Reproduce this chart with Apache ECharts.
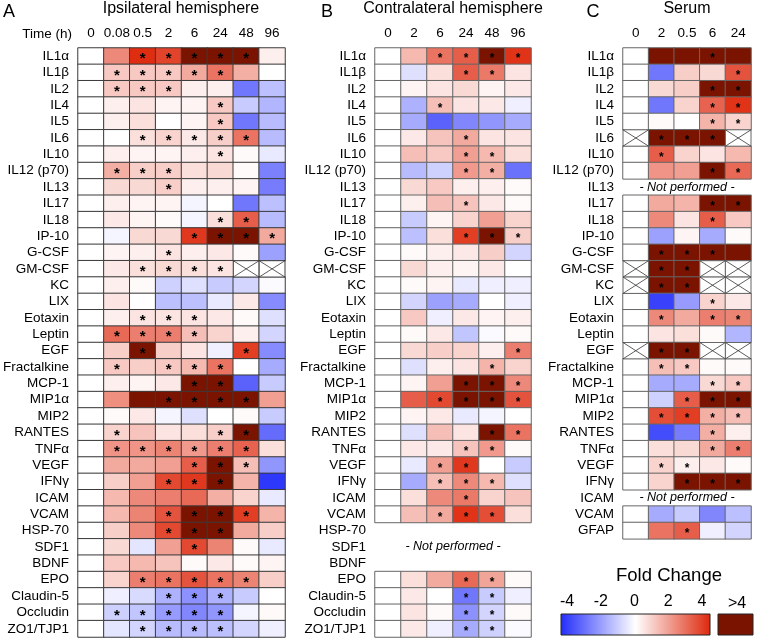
<!DOCTYPE html>
<html><head><meta charset="utf-8">
<script src="https://cdn.jsdelivr.net/npm/echarts@6/dist/echarts.min.js"></script>
<style>html,body{margin:0;padding:0;background:#fff}#c{width:757px;height:640px}</style>
</head><body><div id="c"></div>
<script>
const aRows = ['IL1α','IL1β','IL2','IL4','IL5','IL6','IL10','IL12 (p70)','IL13','IL17','IL18','IP-10','G-CSF','GM-CSF','KC','LIX','Eotaxin','Leptin','EGF','Fractalkine','MCP-1','MIP1α','MIP2','RANTES','TNFα','VEGF','IFNγ','ICAM','VCAM','HSP-70','SDF1','BDNF','EPO','Claudin-5','Occludin','ZO1/TJP1'];
const aCols = ['0','0.08','0.5','2','6','24','48','96'];
const aVals = [
[0,2.2,3.9,3.5,5,5,5,0.3],
[0,1.0,1.0,1.0,1.6,2.6,1.5,0],
[0,1.0,1.0,1.0,0.3,0.3,-2.6,-1.2],
[0,0.3,0.5,0.2,0.2,1.0,-1.0,-1.4],
[0,0.3,0.6,0,0.2,1.0,-2.6,-1.3],
[0,0,0.6,0.8,0.4,0.9,2.6,-1.3],
[0,0.3,0.2,0.2,0.3,0.5,0.1,-0.4],
[0,1.5,0.9,0.9,0.6,0.7,0.1,-2.4],
[0,0.7,0.7,0.9,0.3,0.3,0.2,-2.5],
[0,0.3,0.2,0.2,-0.2,0,-2.6,-1.2],
[0,0.4,0.2,0.1,-0.2,0.6,3.0,-1.3],
[0,-0.2,0.7,0.7,3.7,5,5,1.6],
[0,0.2,0.3,0.5,0.3,0.4,0.1,-1.8],
[0,0.4,0.6,0.7,0.6,0.5,'X','X'],
[0,0.3,0.1,-0.9,-0.6,-1.0,-0.8,-0.1],
[0,0.5,0,-1.2,-1.2,-0.4,0.4,-2.2],
[0,0.3,0.5,0.5,0.5,0.4,0.1,-0.6],
[0,2.8,2.4,2.4,1.2,0.8,0.3,-0.8],
[0,0.9,5,0.9,0.5,-0.3,3.6,-2.2],
[0,1.0,0.9,1.0,1.3,2.6,0,-1.6],
[0,0.3,0.2,0.4,5,5,-3.0,-1.0],
[0,2.1,5,5,5,5,5,1.8],
[0,0.1,0.4,-0.2,-0.6,0,0.1,-1.0],
[0,0.8,1.1,0.5,0.6,0.9,5,-2.8],
[0,2.0,2.0,2.3,1.9,2.4,2.9,0.6],
[0,1.6,1.6,1.8,3.0,5,1.2,-2.0],
[0,0.9,1.8,3.4,3.7,5,1.4,-3.8],
[0,1.3,2.2,2.4,2.8,1.5,0.8,-0.4],
[0,1.3,2.3,3.2,5,5,3.6,1.4],
[0,0.9,2.2,3.4,5,5,1.6,0.9],
[0,0.7,-0.5,1.8,3.4,2.3,0.1,-0.4],
[0,1.0,1.3,1.1,0.1,0.4,0.1,0.2],
[0,0.8,2.4,2.6,3.2,2.6,2.3,0.9],
[0,-0.3,-0.7,-1.5,-2.1,-1.5,-1.0,0],
[0,-0.9,-1.1,-1.9,-2.3,-2.0,-0.2,0.1],
[0,-0.5,-0.8,-1.3,-1.3,-1.2,-0.8,-0.3]
];
const aSig = ['00111110','01111100','01110000','00000100','00000100','00111110','00000100','01110000','00010000','00000000','00000110','00001111','00010000','00111100','00000000','00000000','00111000','01111000','00100010','01011100','00001100','00011110','00000000','01000110','01111110','00001110','00011100','00000000','00011110','00011100','00001000','00000000','00111110','00011100','01111100','00111100'];

const bRows = aRows;
const bCols = ['0','2','6','24','48','96'];
const bVals = [
[0,1.3,2.6,3.0,5,3.8],
[0,-0.6,0.6,3.0,2.5,0.5],
[0,0.2,0.5,0.7,0.2,0.4],
[0,-1.5,1.2,0.5,0.4,-0.3],
[0,-1.6,-3.0,-2.3,-2.0,-1.6],
[0,0.4,1.1,1.6,0.5,0.5],
[0,1.2,1.0,1.8,1.3,0.6],
[0,-1.3,-0.9,1.9,1.5,-2.7],
[0,0.7,1.0,0.3,0.3,0.1],
[0,0.3,1.2,1.1,0.4,0.1],
[0,-1.0,0.2,0.8,1.8,0.8],
[0,-1.2,0.6,3.6,5,0.9],
[0,0.1,0.3,0.4,0.9,-0.8],
[0,0.7,0.3,0.2,0.4,0],
[0,0.1,0.2,-0.4,-0.3,-0.3],
[0,-0.8,-1.8,-1.6,0,-0.3],
[0,1.0,-0.3,0.4,0.2,0.3],
[0,0.1,0.4,-1.1,-0.1,0.1],
[0,0.7,0.9,0.8,0.3,2.4],
[0,-0.6,0.3,0.5,1.4,0.8],
[0,0.2,1.8,5,5,2.2],
[0,3.0,3.4,5,5,3.2],
[0,0.2,0.4,-0.4,-0.2,0],
[0,-0.6,1.2,0.5,5,2.6],
[0,0.4,0.4,1.1,1.9,0.1],
[0,-0.4,1.8,3.7,0,-1.0],
[0,-1.6,1.2,2.2,1.3,-0.6],
[0,0.6,2.2,2.5,0.8,1.1],
[0,1.2,1.6,3.8,3.3,0.6],
null,null,null,
[0,0.6,1.6,2.8,1.7,0.1],
[0,0.4,0,-2.6,-1.0,-0.3],
[0,0.5,0.1,-2.1,-0.8,0.1],
[0,0.4,-0.3,-1.6,-0.9,-0.1]
];
const bSig = ['001111','000110','000000','001000','000000','000100','000110','000110','000000','000100','000000','000111','000000','000000','000000','000000','000000','000000','000001','000010','000111','001111','000000','000011','000110','001100','001110','000100','001110','','','','000110','000110','000110','000110'];

const cRows = ['IL1α','IL1β','IL2','IL4','IL5','IL6','IL10','IL12 (p70)','IL13','IL17','IL18','IP-10','G-CSF','GM-CSF','KC','LIX','Eotaxin','Leptin','EGF','Fractalkine','MCP-1','MIP1α','MIP2','RANTES','TNFα','VEGF','IFNγ','ICAM','VCAM','GFAP'];
const cCols = ['0','2','0.5','6','24'];
const cVals = [
[0,5,5,5,5],
[0,-2.6,0.9,0.7,3.2],
[0,0.7,0.9,5,5],
[0,-2.6,0.8,2.9,3.8],
[0,0.1,0,1.4,0.8],
['X',5,5,5,'X'],
[0,3.0,0.8,0.5,1.3],
[0,2.0,1.8,5,2.8],
null,
[0,1.6,1.4,5,5],
[0,2.2,0.5,3.0,1.0],
[0,-1.8,0.2,-1.6,0.1],
[0,5,5,5,5],
['X',5,5,'X','X'],
['X',5,5,'X','X'],
[0,-3.6,-1.9,0.8,0.4],
[0,2.2,1.6,2.4,2.3],
[0,0.5,0.6,0.1,-1.4],
['X',5,5,'X','X'],
[0,1.2,1.0,0.1,0.1],
[0,-1.6,-1.6,0.7,1.0],
[0,-0.9,3.0,5,5],
[0,3.3,3.6,1.5,1.2],
[0,-3.4,-2.5,1.5,0.3],
[0,0.6,0.7,1.6,2.4],
[0,0.8,0.3,0.4,0.1],
[0,0.8,5,5,5],
null,
[0,-1.6,-1.0,-2.3,-1.2],
[0,2.6,3.0,-0.3,-0.8]
];
const cSig = ['00010','00001','00011','00011','00011','01110','01000','00011','','00011','00010','00000','01110','01100','01100','00010','01011','00000','01100','01100','00011','00111','01111','00010','00011','01100','00111','','00000','00100'];

const scaleTicks = [-4,-2,0,2,4];
const overLabel = '>4';

// ---- colour scale ----
const BLUE=[35,45,250], WHITE=[255,255,255], RED=[222,40,12], DARK=[122,20,0];
function mix(a,b,t){return 'rgb('+a.map((v,i)=>Math.round(v+(b[i]-v)*t)).join(',')+')';}
const stops=[];
for(let v=-4;v<=4;v++){stops.push(v<0?mix(BLUE,WHITE,(v+4)/4):mix(WHITE,RED,v/4));}
stops.push(mix(DARK,DARK,0));

function build(vals,sig){
  const heat=[],xs=[];
  vals.forEach((row,r)=>{ if(!row) return; row.forEach((v,c)=>{
    if(v==='X') xs.push([c,r]); else heat.push([c,r,v,sig[r][c]==='1'?1:0]);
  });});
  return {heat,xs};
}
const A=build(aVals,aSig),B=build(bVals,bSig),C=build(cVals,cSig);

const FONT='"Liberation Sans", Arial, sans-serif';
const rowH=589/36, top0=48;
const grids=[
 {left:77,top:top0,width:208,height:rowH*36},
 {left:375,top:top0,width:156,height:rowH*36},
 {left:623,top:top0,width:128,height:rowH*30},
 {left:567,top:614,width:135,height:21}
];
function xAx(i,data){return {gridIndex:i,type:'category',data:data,position:'top',axisLine:{show:false},axisTick:{show:false},splitLine:{show:false},axisLabel:{interval:0,fontFamily:FONT,fontSize:13.5,color:'#000',margin:8}};}
function yAx(i,data){return {gridIndex:i,type:'category',data:data,inverse:true,axisLine:{show:false},axisTick:{show:false},splitLine:{show:false},axisLabel:{interval:0,fontFamily:FONT,fontSize:13.5,color:'#000',margin:9}};}
function heatSeries(i,d,border,fs){return {type:'heatmap',xAxisIndex:i,yAxisIndex:i,data:d.heat,
  itemStyle:{borderColor:border,borderWidth:1},
  label:{show:true,formatter:p=>p.value[3]?'*':'',color:'#000',fontSize:fs,fontWeight:'bold',fontFamily:FONT,offset:[0,3]},
  emphasis:{disabled:true}};}
function crossSeries(i,d,border){return {type:'custom',xAxisIndex:i,yAxisIndex:i,data:d.xs,
  renderItem:(params,api)=>{const p=api.coord([api.value(0),api.value(1)]);const s=api.size([1,1]);
    const x0=p[0]-s[0]/2,y0=p[1]-s[1]/2,x1=p[0]+s[0]/2,y1=p[1]+s[1]/2;
    return {type:'group',children:[
      {type:'rect',shape:{x:x0,y:y0,width:s[0],height:s[1]},style:{fill:'#fff',stroke:border,lineWidth:1}},
      {type:'line',shape:{x1:x0,y1:y0,x2:x1,y2:y1},style:{stroke:'#333',lineWidth:0.8}},
      {type:'line',shape:{x1:x0,y1:y1,x2:x1,y2:y0},style:{stroke:'#333',lineWidth:0.8}}]};}};}

function txt(x,y,t,fs,align){return {type:'text',x:x,y:y,style:{text:t,fontFamily:FONT,fontSize:fs,fill:'#000',textAlign:align||'center',textVerticalAlign:'middle'}};}
function np(x,rowIdx){const g=txt(x,top0+(rowIdx+0.5)*rowH,'- Not performed -',12.5,'center');g.style.fontStyle='italic';return g;}

const option={
 animation:false,
 grid:grids,
 xAxis:[xAx(0,aCols),xAx(1,bCols),xAx(2,cCols),
   {gridIndex:3,type:'value',min:-4,max:4,interval:2,position:'top',axisLine:{show:false},axisTick:{show:false},splitLine:{show:false},
    axisLabel:{fontFamily:FONT,fontSize:16,color:'#000',margin:4,formatter:v=>String(v)}}],
 yAxis:[yAx(0,aRows),yAx(1,bRows),yAx(2,cRows),{gridIndex:3,type:'value',show:false}],
 visualMap:{type:'continuous',show:false,min:-4,max:5,dimension:2,seriesIndex:[0,1,2],inRange:{color:stops}},
 series:[heatSeries(0,A,'#3a3a3a',15),heatSeries(1,B,'#666',12),heatSeries(2,C,'#666',12),
   crossSeries(0,A,'#3a3a3a'),crossSeries(1,B,'#666'),crossSeries(2,C,'#666')],
 graphic:[
   txt(9,12,'A',18),txt(181,9,'Ipsilateral hemisphere',16),
   txt(327,12,'B',18),txt(453,9,'Contralateral hemisphere',16),
   txt(593,12,'C',18),txt(687,9,'Serum',16),
   txt(72,34,'Time (h)',13.5,'right'),
   np(453,30),np(687,8),np(687,27),
   txt(669,576,'Fold Change',18.5),
   {type:'rect',shape:{x:561,y:614,width:149,height:21},style:{stroke:'#222',lineWidth:1,
     fill:{type:'linear',x:0,y:0,x2:1,y2:0,colorStops:[{offset:0,color:stops[0]},{offset:0.5,color:stops[4]},{offset:1,color:stops[8]}]}}},
   {type:'rect',shape:{x:718,y:614,width:35,height:21},style:{stroke:'#222',lineWidth:1,fill:stops[9]}},
   txt(737,604,overLabel,16)
 ]
};
const chart=echarts.init(document.getElementById('c'),null,{renderer:'canvas'});
chart.setOption(option);
</script></body></html>
